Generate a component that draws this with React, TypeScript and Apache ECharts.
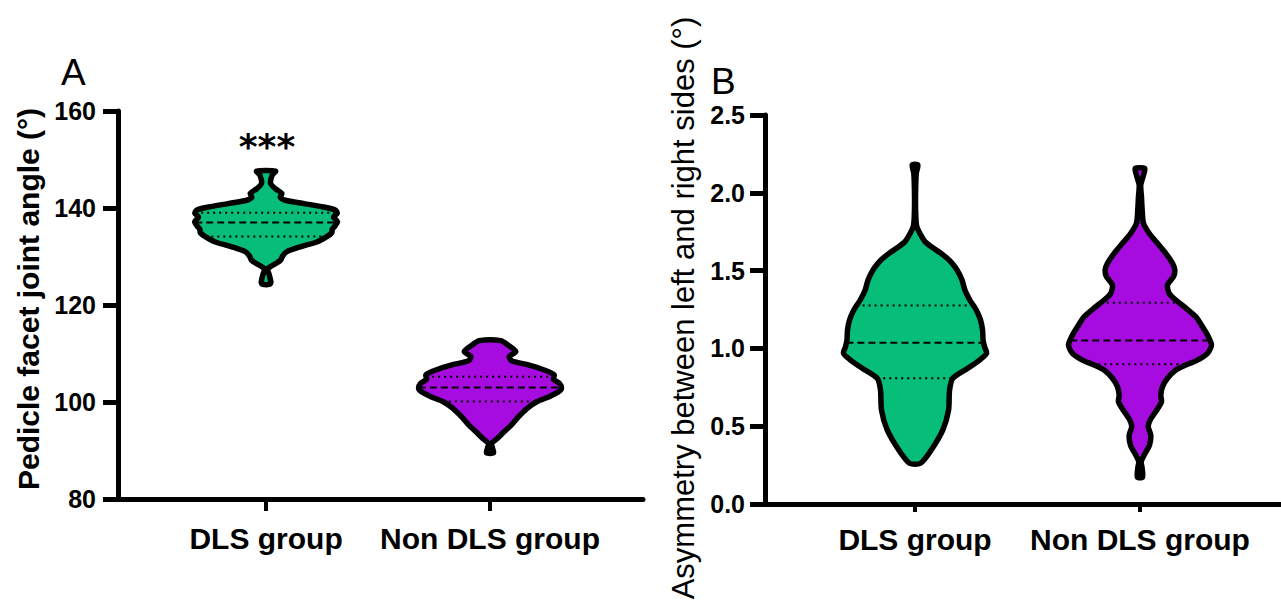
import React, { useEffect, useRef } from "react";
import * as echarts from "echarts";

const GROUPS = ["DLS group", "Non DLS group"];
const GROUP_POS = [1, 2];

const COLOR_DLS = "#06BE7A";
const COLOR_NON = "#A60BE0";

// Panel A: pedicle facet joint angle (°) — violin outlines (value levels, relative half-width)
const ANGLE_DLS_LEVELS = [147.6, 146.8, 145.1, 144.0, 143.0, 142.2, 141.6, 140.9, 140.2, 139.6, 138.9, 138.1, 137.2, 136.1, 135.6, 134.9, 134.1, 133.0, 132.0, 131.0, 130.1, 129.3, 128.6, 127.9, 127.4, 126.2, 124.8, 124.3];
const ANGLE_DLS_DENSITY = [0.133, 0.087, 0.063, 0.129, 0.221, 0.199, 0.269, 0.534, 0.804, 0.968, 0.996, 0.944, 1.0, 0.954, 0.926, 0.92, 0.85, 0.71, 0.478, 0.291, 0.231, 0.207, 0.143, 0.059, 0.021, 0.045, 0.067, 0.056];
const ANGLE_DLS_QUARTILES = [134.1, 137.0, 139.0];

const ANGLE_NON_LEVELS = [112.65, 111.8, 110.4, 109.4, 108.5, 107.7, 106.6, 105.6, 104.7, 103.9, 102.9, 102.2, 101.1, 100.1, 98.7, 97.0, 95.3, 93.9, 92.6, 91.4, 90.5, 89.5];
const ANGLE_NON_DENSITY = [0.151, 0.245, 0.361, 0.269, 0.301, 0.524, 0.758, 0.898, 0.888, 0.968, 1.0, 0.968, 0.828, 0.66, 0.52, 0.4, 0.3, 0.2, 0.11, 0.021, 0.035, 0.049];
const ANGLE_NON_QUARTILES = [100.1, 103.0, 105.2];

// Panel B: asymmetry between left and right sides (°)
const ASYM_DLS_LEVELS = [2.179, 2.125, 1.975, 1.846, 1.782, 1.74, 1.686, 1.65, 1.611, 1.568, 1.536, 1.504, 1.44, 1.375, 1.311, 1.247, 1.182, 1.118, 1.054, 1.011, 0.968, 0.925, 0.872, 0.808, 0.733, 0.604, 0.476, 0.347, 0.262];
const ASYM_DLS_DENSITY = [0.039, 0.017, 0.007, 0.011, 0.025, 0.067, 0.14, 0.238, 0.364, 0.476, 0.538, 0.587, 0.657, 0.697, 0.766, 0.856, 0.916, 0.944, 0.951, 0.972, 1.0, 0.902, 0.738, 0.529, 0.483, 0.469, 0.389, 0.227, 0.077];
const ASYM_DLS_QUARTILES = [0.808, 1.037, 1.275];

const ASYM_NON_LEVELS = [2.157, 2.114, 2.05, 1.975, 1.889, 1.804, 1.74, 1.675, 1.611, 1.547, 1.504, 1.461, 1.407, 1.354, 1.311, 1.268, 1.204, 1.139, 1.086, 1.022, 0.968, 0.925, 0.893, 0.861, 0.808, 0.754, 0.7, 0.657, 0.604, 0.54, 0.497, 0.443, 0.379, 0.315, 0.272, 0.229, 0.172];
const ASYM_NON_DENSITY = [0.067, 0.049, 0.011, 0.021, 0.031, 0.049, 0.129, 0.245, 0.361, 0.455, 0.487, 0.469, 0.385, 0.408, 0.501, 0.618, 0.78, 0.874, 0.944, 1.0, 0.944, 0.804, 0.641, 0.501, 0.385, 0.315, 0.291, 0.301, 0.235, 0.143, 0.115, 0.151, 0.133, 0.059, 0.017, 0.031, 0.035];
const ASYM_NON_QUARTILES = [0.898, 1.05, 1.294];

const FONT = "'Liberation Sans', Arial, Helvetica, sans-serif";

function widthAt(levels: number[], dens: number[], v: number): number {
  for (let i = 0; i < levels.length - 1; i++) {
    const a = levels[i];
    const b = levels[i + 1];
    if ((v <= a && v >= b) || (v >= a && v <= b)) {
      const t = (v - a) / (b - a || 1);
      return dens[i] + t * (dens[i + 1] - dens[i]);
    }
  }
  return 0;
}

function violinSeries(
  axisIndex: number,
  center: number,
  levels: number[],
  dens: number[],
  quart: number[],
  color: string,
  maxHW: number
) {
  return {
    type: "custom",
    xAxisIndex: axisIndex,
    yAxisIndex: axisIndex,
    data: [[center, quart[1]]],
    clip: false,
    silent: true,
    renderItem: (_params: any, api: any) => {
      const pts: number[][] = [];
      for (let i = 0; i < levels.length; i++) pts.push(api.coord([center + dens[i] * maxHW, levels[i]]));
      for (let i = levels.length - 1; i >= 0; i--) pts.push(api.coord([center - dens[i] * maxHW, levels[i]]));
      const children: any[] = [
        { type: "polygon", shape: { points: pts, smooth: 0.25 }, style: { fill: color, stroke: null } },
      ];
      quart.forEach((q, k) => {
        const w = widthAt(levels, dens, q) * maxHW;
        const a = api.coord([center - w, q]);
        const b = api.coord([center + w, q]);
        children.push({
          type: "line",
          shape: { x1: a[0], y1: a[1], x2: b[0], y2: b[1] },
          style: { stroke: "#000", lineWidth: 2, lineDash: k === 1 ? [7, 4] : [2, 4] },
        });
      });
      children.push({
        type: "polygon",
        shape: { points: pts, smooth: 0.25 },
        style: { fill: null, stroke: "#000", lineWidth: 5.5, lineJoin: "round" },
      });
      return { type: "group", children };
    },
  };
}

function xAxisDef(gridIndex: number, min: number, max: number, tickLen: number, margin: number) {
  return {
    gridIndex,
    type: "value",
    min,
    max,
    axisLine: { show: true, onZero: false, lineStyle: { color: "#000", width: 5 } },
    axisTick: { show: true, customValues: GROUP_POS, length: tickLen, lineStyle: { color: "#000", width: 4 } },
    axisLabel: {
      customValues: GROUP_POS,
      formatter: (v: number) => GROUPS[GROUP_POS.indexOf(Math.round(v))] || "",
      fontSize: 30,
      fontWeight: "bold",
      fontFamily: FONT,
      color: "#000",
      margin,
    },
    splitLine: { show: false },
  };
}

export default function App() {
  const ref = useRef<HTMLDivElement>(null);
  useEffect(() => {
    if (!ref.current) return;
    const chart = echarts.init(ref.current, null, { renderer: "svg" });
    const option: any = {
      animation: false,
      backgroundColor: "#fff",
      grid: [
        { left: 118, top: 111, right: 1281 - 643, bottom: 601 - 499 },
        { left: 765, top: 115, right: 0, bottom: 601 - 504 },
      ],
      xAxis: [xAxisDef(0, 0.339, 2.683, 12, 24), xAxisDef(1, 0.333, 2.627, 8, 20)],
      yAxis: [
        {
          gridIndex: 0,
          type: "value",
          min: 80,
          max: 160,
          interval: 20,
          axisLine: { show: true, onZero: false, lineStyle: { color: "#000", width: 5 } },
          axisTick: { show: true, length: 15, lineStyle: { color: "#000", width: 5 } },
          axisLabel: { fontSize: 25, fontWeight: "bold", fontFamily: FONT, color: "#000", margin: 22 },
          splitLine: { show: false },
        },
        {
          gridIndex: 1,
          type: "value",
          min: 0,
          max: 2.5,
          interval: 0.5,
          axisLine: { show: true, onZero: false, lineStyle: { color: "#000", width: 5 } },
          axisTick: { show: true, length: 15, lineStyle: { color: "#000", width: 5 } },
          axisLabel: {
            fontSize: 25,
            fontWeight: "bold",
            fontFamily: FONT,
            color: "#000",
            margin: 20,
            formatter: (v: number) => v.toFixed(1),
          },
          splitLine: { show: false },
        },
      ],
      series: [
        violinSeries(0, GROUP_POS[0], ANGLE_DLS_LEVELS, ANGLE_DLS_DENSITY, ANGLE_DLS_QUARTILES, COLOR_DLS, 0.319),
        violinSeries(0, GROUP_POS[1], ANGLE_NON_LEVELS, ANGLE_NON_DENSITY, ANGLE_NON_QUARTILES, COLOR_NON, 0.319),
        violinSeries(1, GROUP_POS[0], ASYM_DLS_LEVELS, ASYM_DLS_DENSITY, ASYM_DLS_QUARTILES, COLOR_DLS, 0.318),
        violinSeries(1, GROUP_POS[1], ASYM_NON_LEVELS, ASYM_NON_DENSITY, ASYM_NON_QUARTILES, COLOR_NON, 0.318),
      ],
      graphic: [
        {
          type: "text",
          x: 28,
          y: 299,
          rotation: Math.PI / 2,
          style: {
            text: "Pedicle facet joint angle (°)",
            font: `bold 30px ${FONT}`,
            textAlign: "center",
            textVerticalAlign: "middle",
            fill: "#000",
          },
        },
        {
          type: "text",
          x: 683,
          y: 308,
          rotation: Math.PI / 2,
          style: {
            text: "Asymmetry between left and right sides (°)",
            font: `31px ${FONT}`,
            textAlign: "center",
            textVerticalAlign: "middle",
            fill: "#000",
          },
        },
        {
          type: "text",
          x: 61,
          y: 72,
          style: { text: "A", font: `37px ${FONT}`, textAlign: "left", textVerticalAlign: "middle", fill: "#000" },
        },
        {
          type: "text",
          x: 711,
          y: 81,
          style: { text: "B", font: `37px ${FONT}`, textAlign: "left", textVerticalAlign: "middle", fill: "#000" },
        },
        {
          type: "text",
          x: 267,
          y: 146,
          style: {
            text: "***",
            font: `bold 36px 'DejaVu Sans', sans-serif`,
            textAlign: "center",
            textVerticalAlign: "middle",
            fill: "#000",
          },
        },
      ],
    };
    chart.setOption(option);
    return () => chart.dispose();
  }, []);
  return (
    <div
      ref={ref}
      style={{ position: "fixed", left: 0, top: 0, width: 1281, height: 601, background: "#fff" }}
    />
  );
}
